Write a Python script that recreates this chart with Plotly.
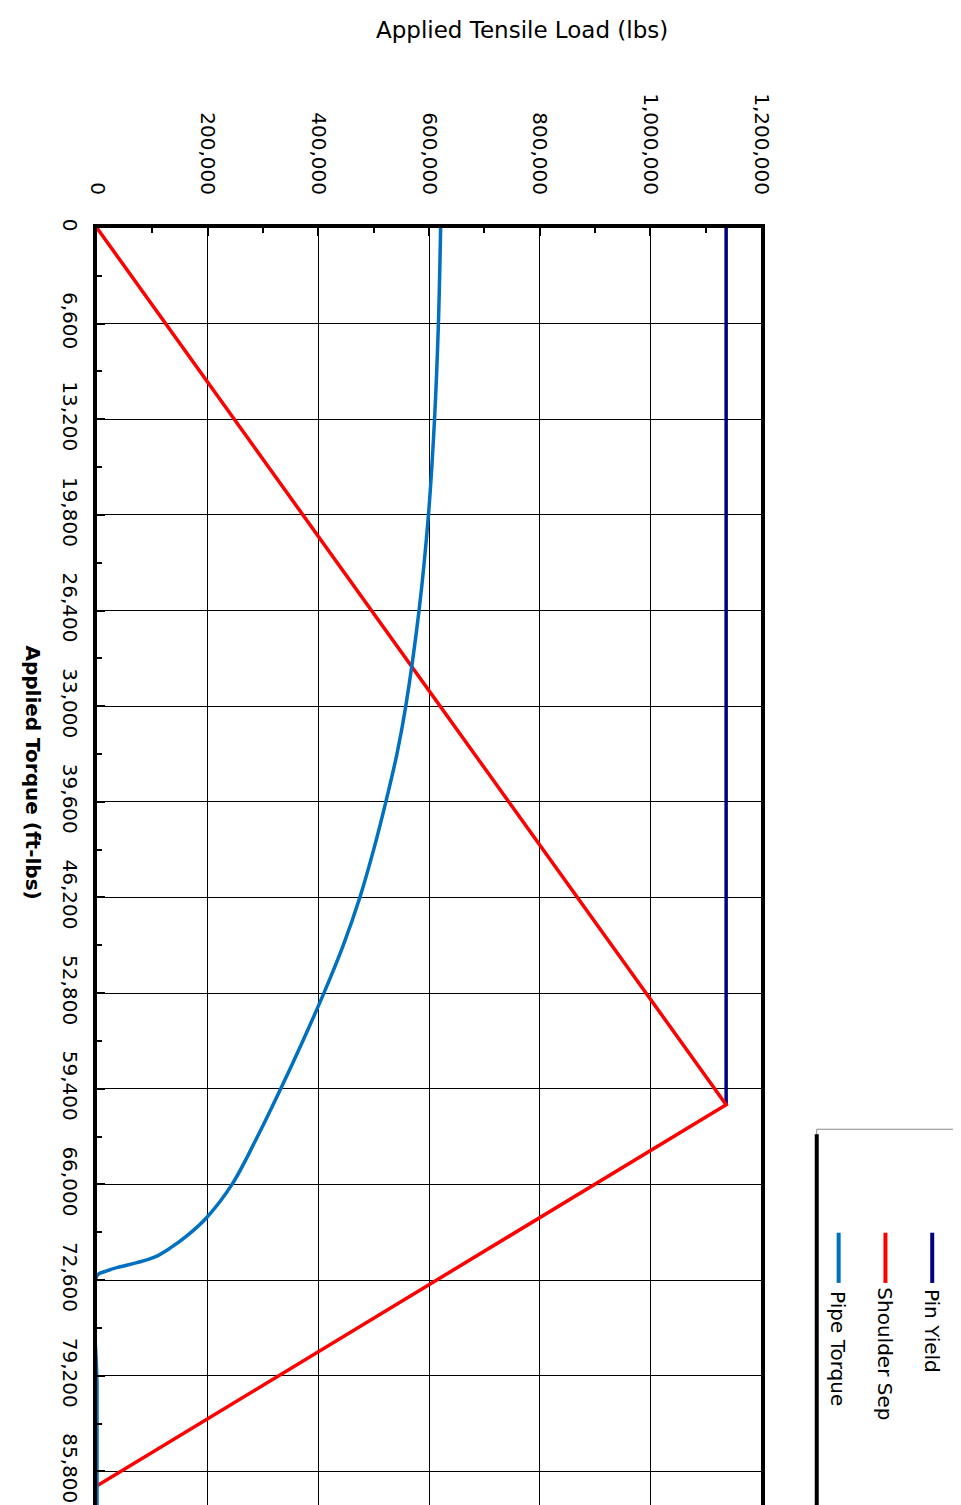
import plotly.graph_objects as go

torque_pin = [0, 60500]
load_pin = [1137000, 1137000]
torque_sep = [0, 60500, 86800]
load_sep = [0, 1137000, 0]
torque_pipe = [0, 6600, 13200, 19800, 26400, 33000, 36300, 39600, 42900, 46200, 49500, 52800, 56100, 59400, 62700, 66000, 68300, 69500, 70400, 71000, 71400, 71700, 72000, 72300, 80000, 88400]
load_pipe = [621000, 617000, 610000, 599000, 582000, 558000, 542000, 522000, 500000, 475000, 445000, 410000, 372000, 332000, 290000, 244000, 198000, 164000, 132000, 105000, 72000, 40000, 15000, 0, 0, 0]
torque_ticks = [0, 6600, 13200, 19800, 26400, 33000, 39600, 46200, 52800, 59400, 66000, 72600, 79200, 85800]
load_ticks = [0, 200000, 400000, 600000, 800000, 1000000, 1200000]

fig = go.Figure()
fig.add_trace(go.Scatter(x=load_pin, y=torque_pin, mode="lines", line=dict(color="#000080", width=3.5), name="Pin Yield"))
fig.add_trace(go.Scatter(x=load_sep, y=torque_sep, mode="lines", line=dict(color="#ff0000", width=3.5), name="Shoulder Sep"))
fig.add_trace(go.Scatter(x=load_pipe, y=torque_pipe, mode="lines", line=dict(color="#0070c0", width=3.5, shape="spline", smoothing=1.0), name="Pipe Torque"))

fnt = dict(family="DejaVu Sans", size=20, color="black")
fig.update_layout(
    width=961, height=1505, showlegend=False, plot_bgcolor="white", paper_bgcolor="white",
    margin=dict(l=89, r=208, t=220, b=4, autoexpand=False),
    xaxis=dict(range=[0, 1200000], side="top", tickvals=load_ticks, automargin=False,
               ticktext=[f"{v:,}" for v in load_ticks], tickangle=90, tickfont=fnt,
               showgrid=True, gridcolor="black", gridwidth=1, showline=True, linecolor="black",
               linewidth=4, mirror=True, ticks="inside", ticklen=8, tickcolor="black", tickwidth=2,
               ticklabelstandoff=22,
               minor=dict(dtick=100000, ticks="inside", ticklen=5, tickcolor="black", tickwidth=2), zeroline=False),
    yaxis=dict(range=[88400, 0], tickvals=torque_ticks, ticktext=[f"{v:,}" for v in torque_ticks], automargin=False,
               tickangle=90, tickfont=fnt, showgrid=True, gridcolor="black", gridwidth=1,
               showline=True, linecolor="black", linewidth=4, mirror=True, ticks="inside", ticklen=8,
               tickcolor="black", tickwidth=2, ticklabelstandoff=6,
               minor=dict(dtick=3300, ticks="inside", ticklen=5, tickcolor="black", tickwidth=2), zeroline=False),
)
fig.add_annotation(text="Applied Tensile Load (lbs)", xref="paper", yref="paper", x=0.64, y=1.0, yshift=198,
                   showarrow=False, font=dict(family="DejaVu Sans", size=23, color="black"), yanchor="middle")
fig.add_annotation(text="<b>Applied Torque (ft-lbs)</b>", xref="paper", yref="paper", x=0, xshift=-78, y=0.575,
                   showarrow=False, textangle=90, font=dict(family="DejaVu Sans", size=20, color="black"))
X = lambda s: (s - 95) / 667
Y = lambda s: (1500 - s) / 1275
fig.add_shape(type="rect", xref="paper", yref="paper", x0=X(818), x1=X(958),
              y0=-0.02, y1=Y(1122), line=dict(color="#888", width=1))
fig.add_shape(type="line", xref="paper", yref="paper", x0=X(818), x1=X(818),
              y0=-0.02, y1=Y(1127), line=dict(color="black", width=4))
names = ["Pin Yield", "Shoulder Sep", "Pipe Torque"]
cols = ["#000080", "#ff0000", "#0070c0"]
lens = [90, 135, 125]
for i, (n, c) in enumerate(zip(names, cols)):
    xp = X(934 - 47*i)
    fig.add_shape(type="line", xref="paper", yref="paper", x0=xp, x1=xp,
                  y0=Y(1225), y1=Y(1275), line=dict(color=c, width=4))
    fig.add_annotation(text=n, xref="paper", yref="paper", x=xp, y=Y(1278 + lens[i]/2), yanchor="middle",
                       xanchor="center",
                       showarrow=False, textangle=90, font=dict(family="DejaVu Sans", size=20, color="black"))
fig.write_html("out.html")
